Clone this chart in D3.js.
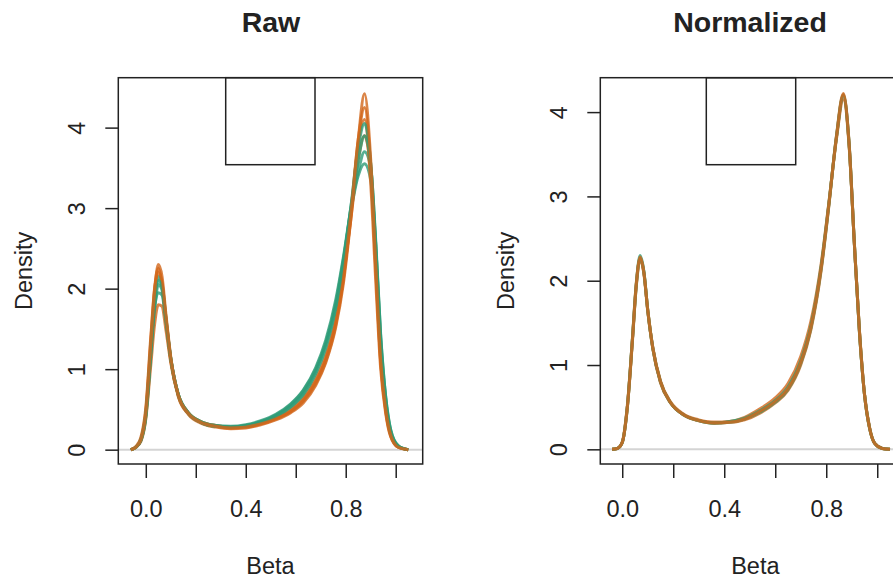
<!DOCTYPE html>
<html>
<head>
<meta charset="utf-8">
<script src="https://cdn.jsdelivr.net/npm/d3@7"></script>
<style>
  html, body { margin: 0; padding: 0; background: #fff; }
  svg text { font-family: "Liberation Sans", Arial, sans-serif; fill: #222; }
</style>
</head>
<body>
<svg id="chart" width="893" height="583"></svg>
<script>
// ── data ────────────────────────────────────────────────
const xTicks = [0, 0.2, 0.4, 0.6, 0.8, 1.0];
const xTickLabels = ['0.0', '', '0.4', '', '0.8', ''];
const yTicks = [0, 1, 2, 3, 4];

// Raw panel: beta grid and per-sample density values
const rawBeta = [-0.06, -0.04, -0.02, 0.00, 0.02, 0.035, 0.05, 0.065, 0.08, 0.10, 0.13, 0.17,
  0.22, 0.28, 0.34, 0.40, 0.46, 0.52, 0.58, 0.63, 0.68, 0.72, 0.76, 0.79, 0.82, 0.85,
  0.875, 0.90, 0.92, 0.94, 0.96, 0.98, 1.01, 1.05];
const rawO1 = [0,0.03,0.12,0.45,1.30,1.95,2.30,2.15,1.70,1.15,0.68,0.45,0.34,0.29,0.27,0.28,0.32,0.38,0.47,0.60,0.82,1.10,1.55,2.10,2.90,3.85,4.42,3.60,2.30,1.10,0.50,0.18,0.03,0];
const rawO2 = [0,0.04,0.15,0.52,1.40,2.00,2.25,2.05,1.62,1.10,0.66,0.44,0.33,0.28,0.26,0.27,0.31,0.37,0.46,0.58,0.80,1.08,1.52,2.05,2.85,3.80,4.10,3.30,2.10,1.00,0.45,0.16,0.03,0];
const rawO3 = [0,0.03,0.10,0.38,1.05,1.55,1.80,1.78,1.50,1.08,0.68,0.46,0.35,0.30,0.28,0.29,0.33,0.40,0.50,0.64,0.88,1.17,1.62,2.15,2.85,3.60,3.90,3.45,2.35,1.15,0.52,0.19,0.04,0];
const rawO4 = [0,0.03,0.13,0.48,1.35,1.98,2.20,2.08,1.66,1.12,0.67,0.45,0.34,0.29,0.27,0.28,0.32,0.39,0.48,0.62,0.85,1.13,1.58,2.12,2.92,3.85,4.25,3.50,2.25,1.08,0.48,0.17,0.03,0];
const rawG1 = [0,0.03,0.11,0.40,1.15,1.72,2.05,1.98,1.62,1.13,0.69,0.46,0.35,0.30,0.28,0.30,0.35,0.43,0.56,0.73,1.00,1.33,1.82,2.35,2.95,3.40,3.55,3.35,2.55,1.40,0.65,0.24,0.05,0];
const rawG2 = [0,0.03,0.12,0.43,1.22,1.82,2.15,2.05,1.66,1.14,0.68,0.45,0.34,0.29,0.28,0.30,0.34,0.42,0.54,0.70,0.97,1.30,1.78,2.32,3.00,3.60,3.90,3.55,2.55,1.35,0.62,0.22,0.04,0];
const rawG3 = [0,0.03,0.11,0.41,1.18,1.76,1.95,1.92,1.60,1.13,0.69,0.46,0.35,0.30,0.29,0.31,0.36,0.44,0.57,0.74,1.02,1.36,1.86,2.38,2.98,3.45,3.70,3.50,2.60,1.42,0.66,0.25,0.05,0];
const rawG4 = [0,0.03,0.12,0.44,1.25,1.88,2.10,2.02,1.64,1.13,0.68,0.45,0.34,0.29,0.28,0.29,0.34,0.41,0.53,0.68,0.94,1.26,1.74,2.28,3.00,3.75,4.05,3.55,2.45,1.25,0.57,0.20,0.04,0];

// Normalized panel
const normBeta = [-0.04, -0.02, 0.00, 0.02, 0.04, 0.055, 0.07, 0.085, 0.10, 0.12, 0.15, 0.19,
  0.24, 0.30, 0.36, 0.42, 0.48, 0.54, 0.60, 0.65, 0.70, 0.74, 0.78, 0.81, 0.84, 0.867,
  0.89, 0.91, 0.93, 0.95, 0.97, 0.99, 1.02, 1.05];
const normO1 = [0,0.01,0.08,0.50,1.30,1.95,2.28,2.10,1.65,1.20,0.80,0.55,0.41,0.34,0.31,0.32,0.36,0.45,0.57,0.72,1.03,1.45,2.15,2.90,3.70,4.20,3.60,2.45,1.40,0.65,0.25,0.07,0.01,0];
const normO2 = [0,0.01,0.09,0.52,1.32,1.97,2.26,2.08,1.64,1.19,0.79,0.55,0.41,0.34,0.32,0.33,0.38,0.48,0.61,0.78,1.10,1.52,2.20,2.92,3.68,4.15,3.58,2.45,1.42,0.66,0.26,0.07,0.01,0];
const normO3 = [0,0.01,0.08,0.49,1.28,1.93,2.25,2.09,1.66,1.21,0.81,0.56,0.42,0.35,0.32,0.32,0.35,0.43,0.55,0.70,1.00,1.42,2.12,2.88,3.72,4.22,3.62,2.46,1.41,0.65,0.25,0.07,0.01,0];
const normG1 = [0,0.01,0.08,0.50,1.31,1.96,2.30,2.11,1.65,1.20,0.80,0.55,0.41,0.34,0.31,0.33,0.37,0.46,0.58,0.74,1.05,1.47,2.17,2.91,3.71,4.21,3.61,2.46,1.40,0.65,0.25,0.07,0.01,0];
const normG2 = [0,0.01,0.08,0.50,1.30,1.94,2.27,2.10,1.65,1.20,0.80,0.55,0.41,0.34,0.31,0.32,0.36,0.44,0.56,0.71,1.02,1.44,2.14,2.89,3.70,4.19,3.60,2.45,1.40,0.65,0.25,0.07,0.01,0];

const ORANGE = '#D2661A';
const GREEN  = '#2E9C78';

const svg = d3.select('#chart');

// ── one density panel ───────────────────────────────────
function drawPanel(p) {
  const x = d3.scaleLinear().domain(p.xDomain).range([p.left, p.right]);
  const y = d3.scaleLinear().domain(p.yDomain).range([p.bottom, p.top]);
  const g = svg.append('g');

  g.append('defs').append('clipPath').attr('id', p.id)
    .append('rect')
      .attr('x', p.left).attr('y', p.top)
      .attr('width', p.right - p.left).attr('height', p.bottom - p.top);

  // gray zero line
  g.append('line')
    .attr('x1', p.left).attr('x2', p.right)
    .attr('y1', y(0)).attr('y2', y(0))
    .attr('stroke', '#d4d4d4').attr('stroke-width', 2);

  const line = d3.line()
    .x(d => x(d[0]))
    .y(d => y(d[1]))
    .curve(d3.curveMonotoneX);

  const curves = g.append('g').attr('clip-path', `url(#${p.id})`);
  p.series.forEach(s => {
    curves.append('path')
      .datum(p.beta.map((b, i) => [b, s.values[i]]))
      .attr('d', line)
      .attr('fill', 'none')
      .attr('stroke', s.color)
      .attr('stroke-width', 3)
      .attr('stroke-opacity', 0.8)
      .attr('stroke-linejoin', 'round');
  });

  // empty legend box
  g.append('rect')
    .attr('x', p.legend[0]).attr('y', p.top)
    .attr('width', p.legend[1] - p.legend[0]).attr('height', p.legend[2] - p.top)
    .attr('fill', 'none').attr('stroke', '#222').attr('stroke-width', 1.5);

  // plot box
  g.append('rect')
    .attr('x', p.left).attr('y', p.top)
    .attr('width', p.right - p.left).attr('height', p.bottom - p.top)
    .attr('fill', 'none').attr('stroke', '#222').attr('stroke-width', 1.5);

  // x axis (R style)
  const xa = g.append('g')
    .attr('transform', `translate(0,${p.bottom})`)
    .call(d3.axisBottom(x).tickValues(xTicks).tickSize(14).tickPadding(0)
      .tickFormat((d, i) => xTickLabels[i]));
  xa.select('.domain').remove();
  xa.selectAll('line').attr('stroke', '#222').attr('stroke-width', 1.5);
  xa.selectAll('text').attr('dy', null).attr('y', 53)
    .attr('font-size', '23.5px').attr('fill', '#222');

  // y axis
  const ya = g.append('g')
    .attr('transform', `translate(${p.left},0)`)
    .call(d3.axisLeft(y).tickValues(yTicks).tickSize(13).tickFormat(d3.format('d')));
  ya.select('.domain').remove();
  ya.selectAll('line').attr('stroke', '#222').attr('stroke-width', 1.5);
  ya.selectAll('text')
    .attr('x', null).attr('dy', null)
    .attr('transform', 'translate(-33,0) rotate(-90)')
    .attr('text-anchor', 'middle')
    .attr('y', 0)
    .attr('font-size', '23.5px').attr('fill', '#222');

  // labels
  const cx = (p.left + p.right) / 2;
  const cy = (p.top + p.bottom) / 2;
  g.append('text')
    .attr('x', cx).attr('y', 574)
    .attr('text-anchor', 'middle').attr('font-size', '23.5px')
    .text('Beta');
  g.append('text')
    .attr('transform', `translate(${p.left - 86},${cy}) rotate(-90)`)
    .attr('text-anchor', 'middle').attr('font-size', '23.5px')
    .text('Density');
  g.append('text')
    .attr('x', p.titleX).attr('y', 32)
    .attr('text-anchor', 'middle').attr('font-size', '28.5px').attr('font-weight', 'bold')
    .text(p.title);
}

drawPanel({
  id: 'clipRaw', title: 'Raw', titleX: 271,
  left: 118.3, right: 422.7, top: 77.7, bottom: 464,
  xDomain: [-0.11, 1.108], yDomain: [-0.178, 4.62],
  legend: [225.7, 315, 164.7],
  beta: rawBeta,
  series: [
    { values: rawG1, color: GREEN }, { values: rawO3, color: ORANGE },
    { values: rawG3, color: GREEN }, { values: rawO2, color: ORANGE },
    { values: rawG2, color: GREEN }, { values: rawO4, color: ORANGE },
    { values: rawG4, color: GREEN }, { values: rawO1, color: ORANGE }
  ]
});

drawPanel({
  id: 'clipNorm', title: 'Normalized', titleX: 750,
  left: 600.3, right: 910.4, top: 77.7, bottom: 464,
  xDomain: [-0.086, 1.13], yDomain: [-0.174, 4.408],
  legend: [706.3, 795.7, 164.7],
  beta: normBeta,
  series: [
    { values: normO2, color: ORANGE }, { values: normG1, color: GREEN },
    { values: normO3, color: ORANGE }, { values: normG2, color: GREEN },
    { values: normO1, color: ORANGE }
  ]
});
</script>
</body>
</html>
